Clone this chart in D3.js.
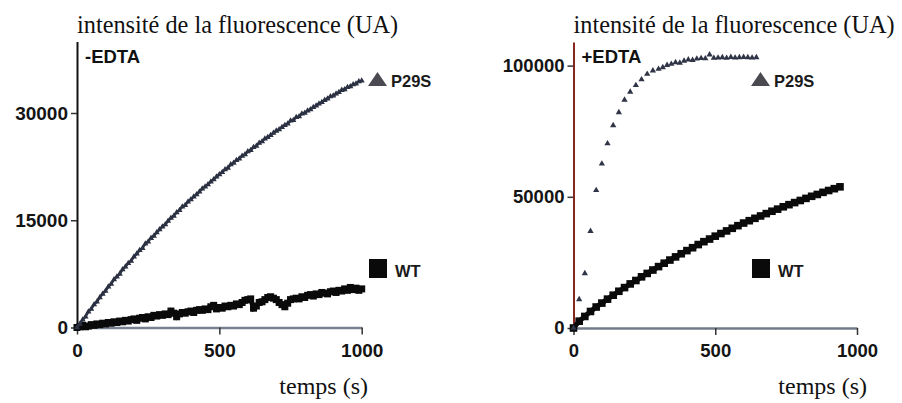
<!DOCTYPE html>
<html><head><meta charset="utf-8">
<script src="https://cdn.jsdelivr.net/npm/d3@7"></script>
<style>body{margin:0;background:#fff}svg{display:block}</style>
</head><body>
<svg id="c" width="902" height="403"></svg>
<script>
// ---------- DATA ----------
const xTicks = [0, 500, 1000];
const leftYTicks = [0, 15000, 30000];
const rightYTicks = [0, 50000, 100000];
const yTitle = "intensité de la fluorescence (UA)";
const xTitle = "temps (s)";
const panelLabels = ["-EDTA", "+EDTA"];
const seriesNames = ["P29S", "WT"];

// -EDTA panel (time in s)
const leftTime = [0,10,20,30,40,50,60,70,80,90,100,110,120,130,140,150,160,170,180,190,200,210,220,230,240,250,260,270,280,290,300,310,320,330,340,350,360,370,380,390,400,410,420,430,440,450,460,470,480,490,500,510,520,530,540,550,560,570,580,590,600,610,620,630,640,650,660,670,680,690,700,710,720,730,740,750,760,770,780,790,800,810,820,830,840,850,860,870,880,890,900,910,920,930,940,950,960,970,980,990,1000];
const leftP29S = [0,500,1100,1500,2200,2600,3200,3600,4200,4700,5100,5700,6100,6700,7100,7500,8100,8500,9000,9300,9900,10300,10800,11100,11700,12000,12500,12800,13300,13700,14100,14400,14900,15300,15600,16100,16400,16900,17100,17600,17900,18300,18600,19000,19400,19700,20000,20400,20700,21100,21400,21700,22100,22300,22800,23000,23400,23600,24000,24200,24600,24800,25200,25400,25800,26000,26400,26600,26900,27200,27500,27700,28000,28300,28500,28900,29000,29400,29500,29900,30000,30300,30500,30800,31000,31300,31500,31800,32000,32300,32400,32700,32900,33200,33300,33600,33700,34000,34100,34400,34500];
const leftWT = [0,100,300,100,200,400,300,500,400,600,500,700,600,800,700,900,800,1000,900,1100,1200,1000,1300,1400,1200,1500,1400,1700,1600,1800,1700,1900,1800,2300,2000,1500,1900,2100,2000,2200,2300,2100,2400,2500,2400,2600,2500,2900,3100,2600,2800,2700,3000,2900,3100,3000,3300,3200,3500,3800,3900,4000,2700,3000,3500,3600,3900,4200,4300,4100,3900,3500,3200,2900,3400,3900,4000,4100,4000,4300,4200,4500,4600,4400,4700,4600,4900,4800,4700,5000,5100,4900,5200,5100,5400,5200,5600,5300,5500,5200,5400];

// +EDTA panel
const rightP29STime = [0,20,40,60,80,100,120,140,160,180,200,220,240,260,280,300,315,330,345,360,375,390,405,420,435,450,465,480,495,510,525,540,555,570,585,600,615,630,645];
const rightP29S = [0,10900,20800,36900,52500,62600,70300,77200,82200,86900,90000,92500,94700,96800,98100,98700,99300,100200,100600,101200,101000,101800,102300,102100,102600,102800,102700,104200,102900,103000,103100,102900,103200,103000,103100,103200,103100,103000,103100];
const rightWTTime = [0,20,40,60,80,100,120,140,160,180,200,220,240,260,280,300,320,340,360,380,400,420,440,460,480,500,520,540,560,580,600,620,640,660,680,700,720,740,760,780,800,820,840,860,880,900,920,940];
const rightWT = [0,2600,4400,6300,8000,9500,11000,12500,14000,15400,16800,18100,19500,20800,22100,23400,24700,25900,27100,28300,29500,30600,31800,32900,33900,35000,36000,37000,38000,39000,40000,40900,41800,42700,43600,44500,45300,46200,47000,47800,48600,49400,50200,50900,51700,52400,53100,53800];

// ---------- DRAW ----------
const svg = d3.select("#c");
const SANS = "'Liberation Sans', Arial, sans-serif";
const SERIF = "'Liberation Serif', 'Times New Roman', serif";

function panel(o) {
  const x = d3.scaleLinear().domain([0, 1000]).range(o.xr);
  const y = d3.scaleLinear().domain(o.yd).range(o.yr);
  const g = svg.append("g");

  const xa = g.append("g").attr("transform", `translate(0,${y(0)})`)
    .call(d3.axisBottom(x).tickValues(xTicks).tickSize(7).tickSizeOuter(0).tickPadding(9).tickFormat(d3.format("d")));
  xa.select(".domain").attr("stroke", o.xAxisColor).attr("stroke-width", 2.5);
  xa.selectAll(".tick line").attr("stroke", "#333").attr("stroke-width", 1.5);
  xa.selectAll("text").attr("font-family", SANS).attr("font-weight", "bold").attr("font-size", o.tickFont).attr("fill", "#141414");

  const ya = g.append("g").attr("transform", `translate(${x(0)},0)`)
    .call(d3.axisLeft(y).tickValues(o.yTicks).tickSize(6).tickSizeOuter(0).tickPadding(3).tickFormat(d3.format("d")));
  ya.select(".domain").attr("stroke", o.yAxisColor).attr("stroke-width", 2);
  ya.selectAll(".tick line").attr("stroke", "#333").attr("stroke-width", 1.5);
  ya.selectAll("text").attr("font-family", SANS).attr("font-weight", "bold").attr("font-size", o.tickFont).attr("fill", "#141414");

  g.append("text").attr("x", x(0)).attr("y", 33).attr("font-family", SERIF).attr("font-size", 24.3)
    .attr("fill", "#111").text(yTitle);
  g.append("text").attr("x", o.xTitleEnd).attr("y", 394).attr("text-anchor", "end").attr("font-family", SERIF)
    .attr("font-size", 24).attr("fill", "#111").text(xTitle);
  g.append("text").attr("x", x(0) + 8).attr("y", 63).attr("font-family", SANS).attr("font-weight", "bold")
    .attr("font-size", 18.5).attr("fill", "#111").text(o.label);
  return {g, x, y};
}

function tri(g, cx, cy, w, h, color) {
  g.append("path").attr("d", `M${cx},${cy - h/2}L${cx + w/2},${cy + h/2}L${cx - w/2},${cy + h/2}Z`).attr("fill", color);
}

function legend(g, lx, p29y, wty) {
  tri(g, lx + 9.5, p29y - 8, 19, 14, "#4a4a50");
  g.append("text").attr("x", lx + 23).attr("y", p29y).attr("font-family", SANS).attr("font-weight", "bold")
    .attr("font-size", 16.5).attr("fill", "#1a1a1a").text(seriesNames[0]);
  g.append("rect").attr("x", lx + 1).attr("y", wty - 18).attr("width", 18).attr("height", 19).attr("fill", "#0a0a0a");
  g.append("text").attr("x", lx + 27).attr("y", wty).attr("font-family", SANS).attr("font-weight", "bold")
    .attr("font-size", 16.5).attr("fill", "#1a1a1a").text(seriesNames[1]);
}

// Left panel
const L = panel({xr: [77, 361.7], yd: [0, 40000], yr: [327.5, 41.5], yTicks: leftYTicks,
  xAxisColor: "#7a8090", yAxisColor: "#111", tickFont: 19, xTitleEnd: 368, label: panelLabels[0]});
{
  const {g, x, y} = L;
  const wt = leftTime.map((t, i) => [t, leftWT[i]]);
  g.append("path").datum(wt).attr("fill", "none").attr("stroke", "#0a0a0a").attr("stroke-width", 5)
    .attr("d", d3.line().x(d => x(d[0])).y(d => y(d[1])));
  g.selectAll(".lwt").data(wt).join("rect").attr("x", d => x(d[0]) - 3.5).attr("y", d => y(d[1]) - 3.5)
    .attr("width", 7).attr("height", 7).attr("fill", "#0a0a0a");
  const p = leftTime.map((t, i) => [t, leftP29S[i]]);
  g.append("path").datum(p).attr("fill", "none").attr("stroke", "#2b3142").attr("stroke-width", 2.4)
    .attr("d", d3.line().x(d => x(d[0])).y(d => y(d[1])));
  g.selectAll(".lp").data(p).join("path").attr("transform", d => `translate(${x(d[0])},${y(d[1])})`)
    .attr("d", d3.symbol(d3.symbolTriangle, 16)).attr("fill", "#2b3142");
  legend(g, 368, 87, 277);
}

// Right panel
const R = panel({xr: [573.5, 857], yd: [0, 109000], yr: [328, 42], yTicks: rightYTicks,
  xAxisColor: "#737b8b", yAxisColor: "#8a2620", tickFont: 18.5, xTitleEnd: 867, label: panelLabels[1]});
{
  const {g, x, y} = R;
  const wt = rightWTTime.map((t, i) => [t, rightWT[i]]);
  g.append("path").datum(wt).attr("fill", "none").attr("stroke", "#0a0a0a").attr("stroke-width", 5)
    .attr("d", d3.line().x(d => x(d[0])).y(d => y(d[1])));
  g.selectAll(".rwt").data(wt).join("rect").attr("x", d => x(d[0]) - 3.8).attr("y", d => y(d[1]) - 3.8)
    .attr("width", 7.6).attr("height", 7.6).attr("fill", "#0a0a0a");
  const p = rightP29STime.map((t, i) => [t, rightP29S[i]]);
  g.selectAll(".rp").data(p).join("path").attr("transform", d => `translate(${x(d[0])},${y(d[1])})`)
    .attr("d", d3.symbol(d3.symbolTriangle, 17)).attr("fill", "#2f3446");
  legend(g, 751, 87, 277);
}
</script>
</body></html>
